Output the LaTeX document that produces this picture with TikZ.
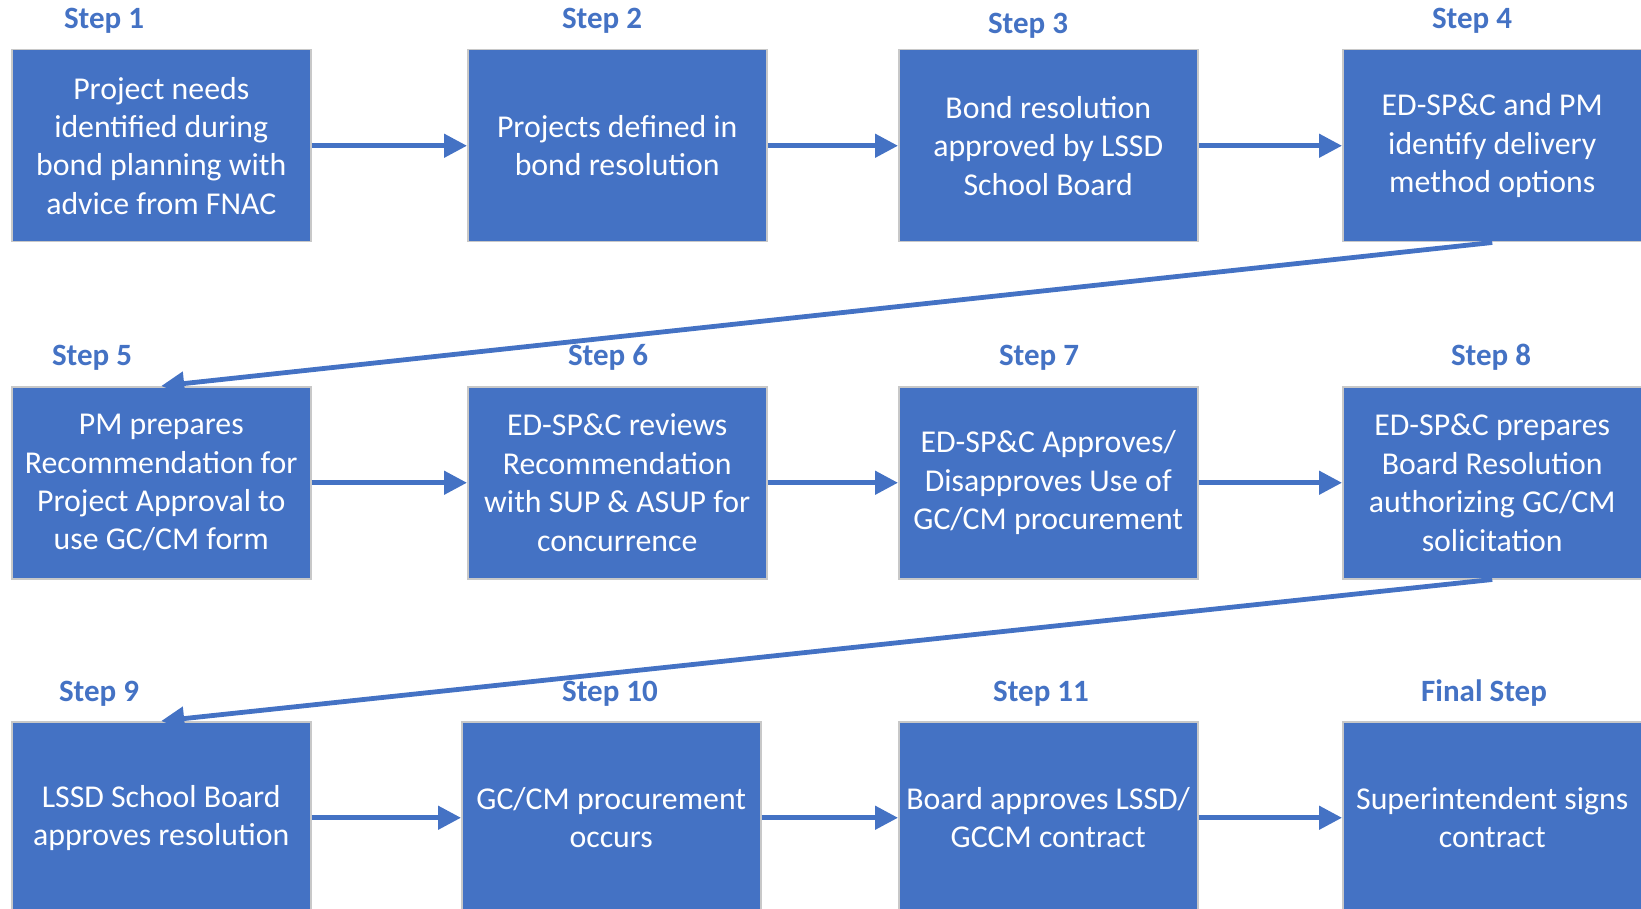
\documentclass[tikz,border=0pt]{standalone}
\usepackage{fontspec}
\setmainfont{Carlito}
\usetikzlibrary{arrows.meta}
\definecolor{obl}{HTML}{4472C4}
\definecolor{bord}{HTML}{C8C8C8}
\tikzset{
  box/.style={draw=bord, line width=1.5pt, fill=obl, text=white, anchor=north west,
    minimum width=299pt, minimum height=192pt, inner sep=0pt, align=center,
    font=\fontsize{31.8}{38.4}\selectfont},
  lbl/.style={text=obl, anchor=base, inner sep=0pt, font=\fontsize{31}{36}\selectfont\bfseries},
  arr/.style={draw=obl, line width=4.8pt, -{Triangle[length=23pt,width=23pt]}, shorten >=0pt}
}
\begin{document}
\begin{tikzpicture}[x=1pt,y=-1pt]
\useasboundingbox (0,0) rectangle (1641,909);
% row 1
\node[box] (b1) at (11,49) {Project needs\\identified during\\bond planning with\\advice from FNAC};
\node[box] (b2) at (467,49) {Projects defined in\\bond resolution};
\node[box] (b3) at (898,49) {Bond resolution\\approved by LSSD\\School Board};
\node[box] (b4) at (1342,49) {ED-SP\&C and PM\\identify delivery\\method options};
% row 2
\node[box] (b5) at (11,386) {PM prepares\\Recommendation for\\Project Approval to\\use GC/CM form};
\node[box] (b6) at (467,386) {ED-SP\&C reviews\\Recommendation\\with SUP \& ASUP for\\concurrence};
\node[box] (b7) at (898,386) {ED-SP\&C Approves/\\Disapproves Use of\\GC/CM procurement};
\node[box] (b8) at (1342,386) {ED-SP\&C prepares\\Board Resolution\\authorizing GC/CM\\solicitation};
% row 3
\node[box] (b9) at (11,721) {LSSD School Board\\approves resolution};
\node[box] (b10) at (461,721) {GC/CM procurement\\occurs};
\node[box] (b11) at (898,721) {Board approves LSSD/\\GCCM contract};
\node[box] (b12) at (1342,721) {Superintendent signs\\contract};
% labels
\node[lbl] (l1) at (104,29) {Step 1};
\node[lbl] (l2) at (602,29) {Step 2};
\node[lbl] (l3) at (1028,34) {Step 3};
\node[lbl] (l4) at (1472,29) {Step 4};
\node[lbl] (l5) at (92,365) {Step 5};
\node[lbl] (l6) at (608,365) {Step 6};
\node[lbl] (l7) at (1039,365) {Step 7};
\node[lbl] (l8) at (1491,365) {Step 8};
\node[lbl] (l9) at (99,701) {Step 9};
\node[lbl] (l10) at (610,701) {Step 10};
\node[lbl] (l11) at (1041,701) {Step 11};
\node[lbl] (l12) at (1484,701) {Final Step};
% arrows
\draw[arr] (b1.east) -- (b2.west);
\draw[arr] (b2.east) -- (b3.west);
\draw[arr] (b3.east) -- (b4.west);
\draw[arr] (b4.south) -- (b5.north);
\draw[arr] (b5.east) -- (b6.west);
\draw[arr] (b6.east) -- (b7.west);
\draw[arr] (b7.east) -- (b8.west);
\draw[arr] (b8.south) -- (b9.north);
\draw[arr] (b9.east) -- (b10.west);
\draw[arr] (b10.east) -- (b11.west);
\draw[arr] (b11.east) -- (b12.west);
\end{tikzpicture}
\end{document}
